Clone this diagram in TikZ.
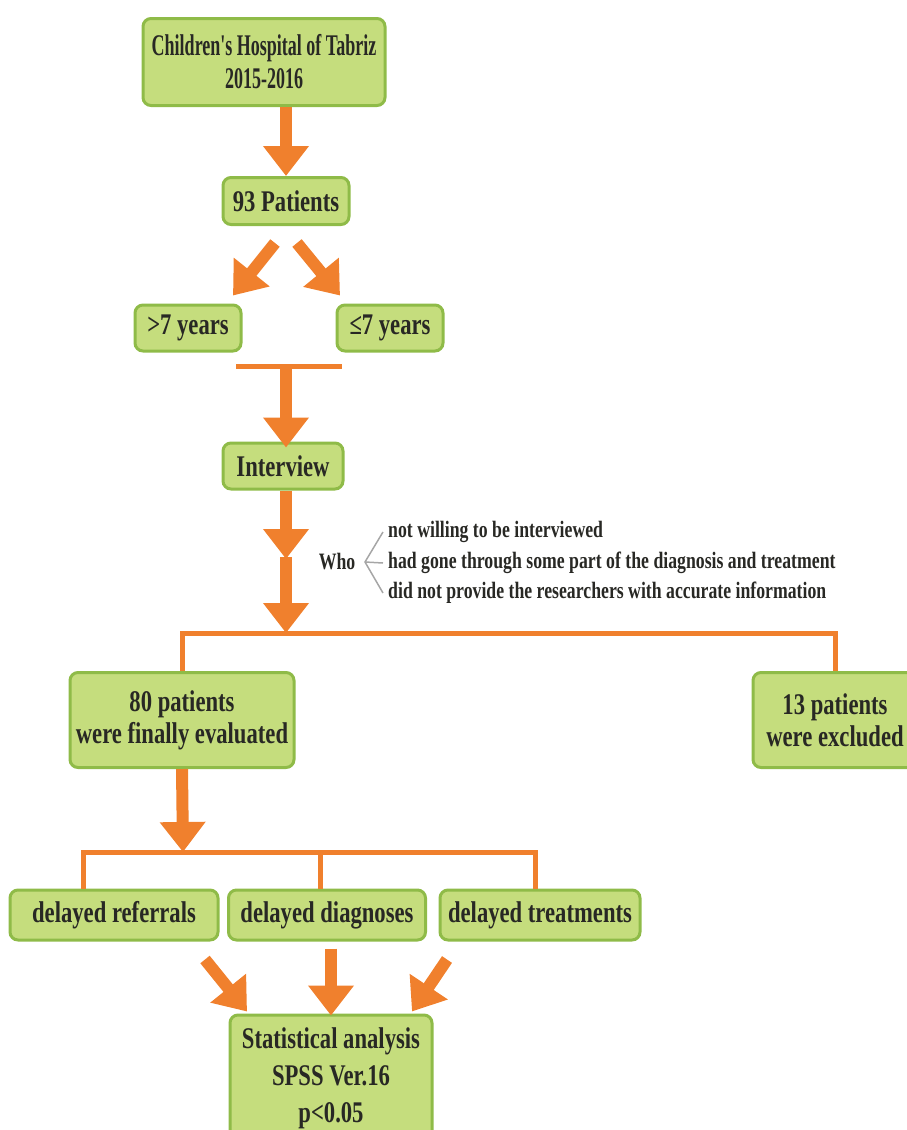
\documentclass[tikz,border=0pt]{standalone}
\usepackage{fontspec}
\setmainfont{Liberation Serif}[FakeStretch=0.755]
\newfontfamily\narrowfont{Liberation Serif}[FakeStretch=0.6]
\usetikzlibrary{arrows.meta, positioning}
\definecolor{boxgreen}{RGB}{197,221,125}
\definecolor{boxedge}{RGB}{143,187,72}
\definecolor{arroworange}{RGB}{240,128,45}
\definecolor{inkgray}{RGB}{40,40,36}

\begin{document}
\begin{tikzpicture}[x=1pt,y=-1pt,
  box/.style={rectangle,rounded corners=8pt,draw=boxedge,line width=3pt,fill=boxgreen,text=inkgray,align=center,font=\bfseries\fontsize{30}{32}\selectfont,inner sep=0pt},
  fat/.style={draw=arroworange,line width=12pt,-{Triangle[width=44pt,length=30pt]}},
  link/.style={draw=arroworange,line width=5pt},
  note/.style={text=inkgray,font=\bfseries\fontsize{23.5}{26}\selectfont,anchor=west,inner sep=0pt}]
  \useasboundingbox (0,0) rectangle (906,1130);

  % Nodes
  \node[box,minimum width=242pt,minimum height=87pt,font=\narrowfont\bfseries\fontsize{30}{33}\selectfont] (hosp) at (264,62) {Children's Hospital of Tabriz\\2015-2016};
  \node[box,minimum width=126pt,minimum height=47pt] (pat) at (286,201) {93 Patients};
  \node[box,minimum width=106pt,minimum height=46pt] (old) at (188,328) {>7 years};
  \node[box,minimum width=106pt,minimum height=46pt] (young) at (390,328) {≤7 years};
  \node[box,minimum width=120pt,minimum height=46pt] (intv) at (283,466) {Interview};
  \node[box,minimum width=224pt,minimum height=95pt] (eval) at (182,720) {80 patients\\were finally evaluated};
  \node[box,minimum width=164pt,minimum height=95pt] (excl) at (835,720) {13 patients\\were excluded};
  \node[box,minimum width=208pt,minimum height=50pt] (refr) at (114,915) {delayed referrals};
  \node[box,minimum width=197pt,minimum height=50pt] (diag) at (327,915) {delayed diagnoses};
  \node[box,minimum width=200pt,minimum height=50pt] (treat) at (540,915) {delayed treatments};
  \node[box,minimum width=202pt,minimum height=126pt,font=\bfseries\fontsize{30}{37}\selectfont] (stat) at (331,1078) {Statistical analysis\\SPSS Ver.16\\p<0.05};

  % Reasons for exclusion
  \node[note,anchor=center] (who) at (337,562) {Who};
  \node[note] (why1) at (388,532) {not willing to be interviewed};
  \node[note] (why2) at (388,563) {had gone through some part of the diagnosis and treatment};
  \node[note] (why3) at (388,593) {did not provide the researchers with accurate information};
  \coordinate (fork) at (365,562);
  \draw[gray!70,line width=1.5pt] ([xshift=-5pt]why1.west) -- (fork) -- ([xshift=-5pt]why3.west)
    (fork) -- ([xshift=-5pt]why2.west);

  % Helper points
  \coordinate (mrgL) at (236,366);
  \coordinate (mrgR) at (342,366);
  \coordinate (brk) at (286,559);
  \coordinate (split) at (286,633);
  \coordinate (split2) at (183,852);
  \coordinate (tkA) at (83,852);
  \coordinate (tkB) at (320,852);
  \coordinate (tkC) at (535,852);

  % Connections
  \draw[fat] (hosp.south -| pat) -- (pat.north);
  \draw[fat] ([shift={(-11,17)}]pat.south) -- ([shift={(45,-8)}]old.north);
  \draw[fat] ([shift={(11,17)}]pat.south) -- ([shift={(-50,-8)}]young.north);
  \draw[link] (mrgL) -- (mrgR);
  \draw[fat] (mrgL -| pat) -- ([yshift=-6pt]intv.north -| pat);
  \draw[fat] (intv.south -| pat) -- (brk);
  \draw[fat] ([yshift=2pt]brk) -- (split);
  \draw[link] (eval.north) |- (split) -| (excl.north);
  \draw[fat] (eval.south) -- (split2);
  \draw[link] (refr.north -| tkA) |- (tkC) -- (treat.north -| tkC);
  \draw[link] (tkB) -- (diag.north -| tkB);
  \draw[fat] ([shift={(91,18)}]refr.south) -- ([shift={(-84,-2)}]stat.north);
  \draw[fat] ([shift={(0,7)}]diag.south -| stat) -- ([yshift=-2pt]stat.north);
  \draw[fat] ([shift={(-93,18)}]treat.south) -- ([shift={(81,-2)}]stat.north);
\end{tikzpicture}
\end{document}
